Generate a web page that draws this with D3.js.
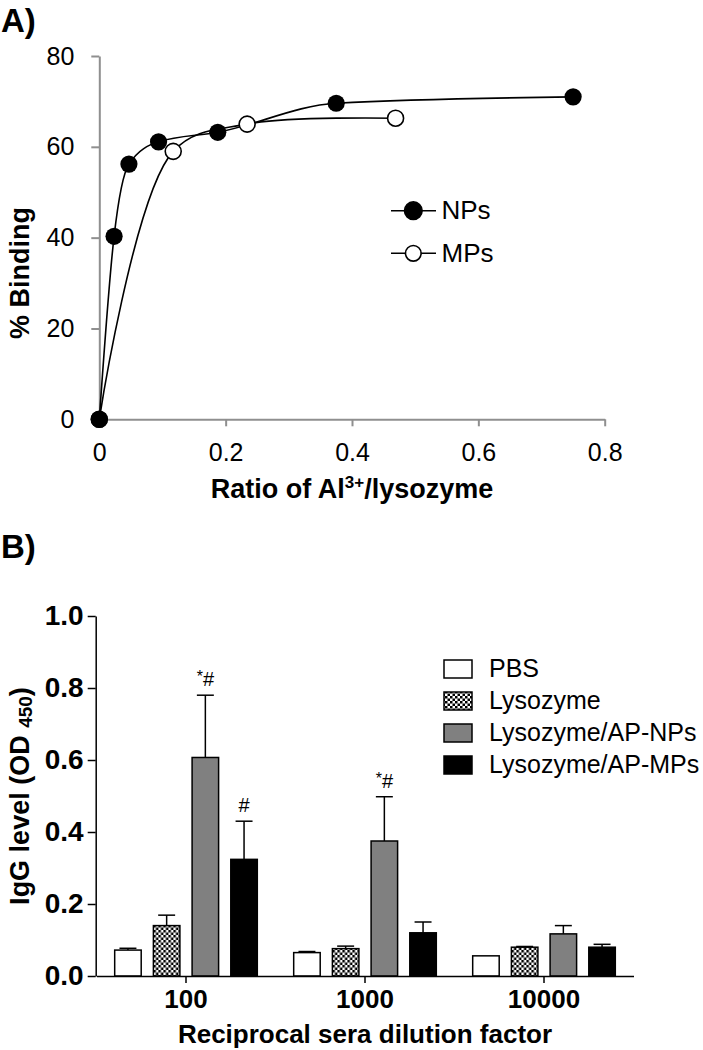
<!DOCTYPE html>
<html>
<head>
<meta charset="utf-8">
<script src="https://cdn.jsdelivr.net/npm/d3@7"></script>
<style>
  body { margin: 0; background: #fff; }
  text { font-family: "Liberation Sans", Arial, sans-serif; }
</style>
</head>
<body>
<script>
// panel A: binding curves
var npRatio = [0, 0.0234, 0.0469, 0.0938, 0.1875, 0.375, 0.75];
var npBinding = [0, 40.3, 56.2, 61.1, 63.2, 69.6, 71.0];
var mpRatio = [0, 0.117, 0.234, 0.469];
var mpBinding = [0, 59.0, 65.0, 66.3];
var ratioTicks = [0, 0.2, 0.4, 0.6, 0.8];
var bindingTicks = [0, 20, 40, 60, 80];

// panel B: IgG levels
var dilutions = ["100", "1000", "10000"];
var groups = ["PBS", "Lysozyme", "Lysozyme/AP-NPs", "Lysozyme/AP-MPs"];
var pbsMean = [0.072, 0.065, 0.056];
var pbsErr = [0.005, 0.003, 0];
var lysMean = [0.140, 0.076, 0.080];
var lysErr = [0.029, 0.007, 0.002];
var npMean = [0.607, 0.375, 0.117];
var npErr = [0.173, 0.123, 0.023];
var mpMean = [0.324, 0.120, 0.080];
var mpErr = [0.106, 0.030, 0.008];
var npMarks = ["*#", "*#", ""];
var mpMarks = ["#", "", ""];
var iggTicks = [0, 0.2, 0.4, 0.6, 0.8, 1.0];

var svg = d3.select("body").append("svg")
    .attr("width", 703)
    .attr("height", 1050);

svg.append("rect").attr("width", 703).attr("height", 1050).attr("fill", "#fff");

var defs = svg.append("defs");
var pat = defs.append("pattern")
    .attr("id", "checker")
    .attr("patternUnits", "userSpaceOnUse")
    .attr("width", 5)
    .attr("height", 5);
pat.append("rect").attr("width", 5).attr("height", 5).attr("fill", "#fff");
pat.append("rect").attr("width", 2.5).attr("height", 2.5).attr("fill", "#000");
pat.append("rect").attr("x", 2.5).attr("y", 2.5).attr("width", 2.5).attr("height", 2.5).attr("fill", "#000");

// panel labels
svg.append("text").attr("x", 1).attr("y", 32)
    .attr("font-family", "Lato, 'Open Sans', sans-serif")
    .attr("font-weight", "bold").attr("font-size", 33).text("A)");
svg.append("text").attr("x", 1).attr("y", 558)
    .attr("font-family", "Lato, 'Open Sans', sans-serif")
    .attr("font-weight", "bold").attr("font-size", 33).text("B)");

// ---------- Panel A ----------
var xA = d3.scaleLinear().domain([0, 0.8]).range([99.3, 604.7]);
var yA = d3.scaleLinear().domain([0, 80]).range([419.3, 56]);

var axisGray = "#8f8f8f";

var gxA = svg.append("g")
    .attr("transform", "translate(0," + yA(0) + ")")
    .call(d3.axisBottom(xA).tickValues(ratioTicks)
        .tickFormat(function(d) { return d === 0 ? "0" : d3.format(".1f")(d); })
        .tickSize(7).tickSizeOuter(0).tickPadding(17));
var gyA = svg.append("g")
    .attr("transform", "translate(" + xA(0) + ",0)")
    .call(d3.axisLeft(yA).tickValues(bindingTicks)
        .tickSize(8).tickSizeOuter(0).tickPadding(17));

[gxA, gyA].forEach(function(g) {
    g.select(".domain").attr("stroke", axisGray).attr("stroke-width", 2);
    g.selectAll(".tick line").attr("stroke", axisGray).attr("stroke-width", 2);
    g.selectAll(".tick text")
        .attr("font-family", "'Liberation Sans', Arial, sans-serif")
        .attr("font-size", 25).attr("fill", "#000");
});

svg.append("text")
    .attr("x", 352).attr("y", 498)
    .attr("text-anchor", "middle")
    .attr("font-weight", "bold").attr("font-size", 27)
    .call(function(t) {
        t.append("tspan").text("Ratio of Al");
        t.append("tspan").attr("dy", -10).attr("font-size", 17).text("3+");
        t.append("tspan").attr("dy", 10).text("/lysozyme");
    });

svg.append("text")
    .attr("transform", "translate(29,273) rotate(-90)")
    .attr("text-anchor", "middle")
    .attr("font-weight", "bold").attr("font-size", 27)
    .text("% Binding");

var npLine = d3.line()
    .x(function(d) { return xA(d[0]); })
    .y(function(d) { return yA(d[1]); })
    .curve(d3.curveMonotoneX);
var mpLine = d3.line()
    .x(function(d) { return xA(d[0]); })
    .y(function(d) { return yA(d[1]); })
    .curve(d3.curveCatmullRom.alpha(0.5));

var npPts = npRatio.map(function(r, i) { return [r, npBinding[i]]; });
var mpPts = mpRatio.map(function(r, i) { return [r, mpBinding[i]]; });

svg.append("path").attr("d", npLine(npPts))
    .attr("fill", "none").attr("stroke", "#000").attr("stroke-width", 1.6);
svg.append("path").attr("d", mpLine(mpPts))
    .attr("fill", "none").attr("stroke", "#000").attr("stroke-width", 1.6);

svg.selectAll("circle.mp")
    .data(mpPts).enter().append("circle")
    .attr("class", "mp")
    .attr("cx", function(d) { return xA(d[0]); })
    .attr("cy", function(d) { return yA(d[1]); })
    .attr("r", 8)
    .attr("fill", "#fff").attr("stroke", "#000").attr("stroke-width", 1.6);
svg.selectAll("circle.np")
    .data(npPts).enter().append("circle")
    .attr("class", "np")
    .attr("cx", function(d) { return xA(d[0]); })
    .attr("cy", function(d) { return yA(d[1]); })
    .attr("r", 8.6)
    .attr("fill", "#000");

// legend A
var legA = [
    { label: "NPs", fill: "#000", y: 210.7 },
    { label: "MPs", fill: "#fff", y: 253.3 }
];
var lg = svg.selectAll("g.legA").data(legA).enter().append("g").attr("class", "legA");
lg.append("line")
    .attr("x1", 391).attr("x2", 436)
    .attr("y1", function(d) { return d.y; }).attr("y2", function(d) { return d.y; })
    .attr("stroke", "#000").attr("stroke-width", 1.6);
lg.append("circle")
    .attr("cx", 413.3).attr("cy", function(d) { return d.y; })
    .attr("r", function(d) { return d.fill === "#000" ? 8.8 : 7.8; })
    .attr("fill", function(d) { return d.fill; })
    .attr("stroke", "#000").attr("stroke-width", 1.6);
lg.append("text")
    .attr("x", 441.5).attr("y", function(d) { return d.y + 8.5; })
    .attr("font-size", 26)
    .text(function(d) { return d.label; });

// ---------- Panel B ----------
var x0 = d3.scaleBand().domain(dilutions).range([96.5, 633.5]);
var x1 = d3.scaleBand().domain(groups).range([0, x0.bandwidth()])
    .paddingInner(0.315).paddingOuter(0.47);
var yB = d3.scaleLinear().domain([0, 1]).range([976, 616]);

var series = [
    { name: groups[0], mean: pbsMean, err: pbsErr, fill: "#fff", marks: ["", "", ""] },
    { name: groups[1], mean: lysMean, err: lysErr, fill: "url(#checker)", marks: ["", "", ""] },
    { name: groups[2], mean: npMean, err: npErr, fill: "#808080", marks: npMarks },
    { name: groups[3], mean: mpMean, err: mpErr, fill: "#000", marks: mpMarks }
];

var bars = [];
series.forEach(function(s) {
    dilutions.forEach(function(dl, i) {
        bars.push({ group: s.name, dil: dl, mean: s.mean[i], err: s.err[i], fill: s.fill, mark: s.marks[i] });
    });
});

var bw = x1.bandwidth();
var capW = bw * 0.64;

var bg = svg.selectAll("g.bar").data(bars).enter().append("g")
    .attr("class", "bar")
    .attr("transform", function(d) { return "translate(" + (x0(d.dil) + x1(d.group)) + ",0)"; });

bg.filter(function(d) { return d.err > 0; }).append("line")
    .attr("x1", bw / 2).attr("x2", bw / 2)
    .attr("y1", function(d) { return yB(d.mean); })
    .attr("y2", function(d) { return yB(d.mean + d.err); })
    .attr("stroke", "#000").attr("stroke-width", 1.5);
bg.filter(function(d) { return d.err > 0; }).append("line")
    .attr("x1", bw / 2 - capW / 2).attr("x2", bw / 2 + capW / 2)
    .attr("y1", function(d) { return yB(d.mean + d.err); })
    .attr("y2", function(d) { return yB(d.mean + d.err); })
    .attr("stroke", "#000").attr("stroke-width", 1.5);

bg.append("rect")
    .attr("y", function(d) { return yB(d.mean); })
    .attr("width", bw)
    .attr("height", function(d) { return yB(0) - yB(d.mean); })
    .attr("fill", function(d) { return d.fill; })
    .attr("stroke", "#000").attr("stroke-width", 1.5);

bg.filter(function(d) { return d.mark; }).append("text")
    .attr("x", bw / 2)
    .attr("y", function(d) { return yB(d.mean + d.err) - 9; })
    .attr("text-anchor", "middle")
    .attr("font-size", 20)
    .each(function(d) {
        var t = d3.select(this);
        if (d.mark.charAt(0) === "*") {
            t.append("tspan").attr("font-size", 16).attr("dy", -4).text("*");
            t.append("tspan").attr("dy", 4).text("#");
        } else {
            t.text(d.mark);
        }
    });

var gxB = svg.append("g")
    .attr("transform", "translate(0," + yB(0) + ")")
    .call(d3.axisBottom(x0).tickSize(7).tickSizeOuter(0).tickPadding(7));
var gyB = svg.append("g")
    .attr("transform", "translate(95.7,0)")
    .call(d3.axisLeft(yB).tickValues(iggTicks).tickFormat(d3.format(".1f"))
        .tickSize(8).tickSizeOuter(0).tickPadding(4));

[gxB, gyB].forEach(function(g) {
    g.select(".domain").attr("stroke", "#000").attr("stroke-width", 1.5);
    g.selectAll(".tick line").attr("stroke", "#000").attr("stroke-width", 1.5);
    g.selectAll(".tick text")
        .attr("font-family", "'Liberation Sans', Arial, sans-serif")
        .attr("font-weight", "bold").attr("fill", "#000");
});
gxB.selectAll(".tick text").attr("font-size", 26);
gyB.selectAll(".tick text").attr("font-size", 28);

svg.append("text")
    .attr("x", 365).attr("y", 1043)
    .attr("text-anchor", "middle")
    .attr("font-weight", "bold").attr("font-size", 26)
    .text("Reciprocal sera dilution factor");

svg.append("text")
    .attr("transform", "translate(29,796) rotate(-90)")
    .attr("text-anchor", "middle")
    .attr("font-weight", "bold").attr("font-size", 27)
    .call(function(t) {
        t.append("tspan").text("IgG level (OD ");
        t.append("tspan").attr("dy", 3).attr("font-size", 19).text("450");
        t.append("tspan").attr("dy", -3).text(")");
    });

// legend B
var legB = svg.selectAll("g.legB").data(series).enter().append("g")
    .attr("class", "legB")
    .attr("transform", function(d, i) { return "translate(0," + (669 + i * 32) + ")"; });
legB.append("rect")
    .attr("x", 444).attr("y", -9)
    .attr("width", 28).attr("height", 18)
    .attr("fill", function(d) { return d.fill; })
    .attr("stroke", "#000").attr("stroke-width", 1.5);
legB.append("text")
    .attr("x", 489).attr("y", 8)
    .attr("font-size", 25)
    .text(function(d) { return d.name; });
</script>
</body>
</html>
